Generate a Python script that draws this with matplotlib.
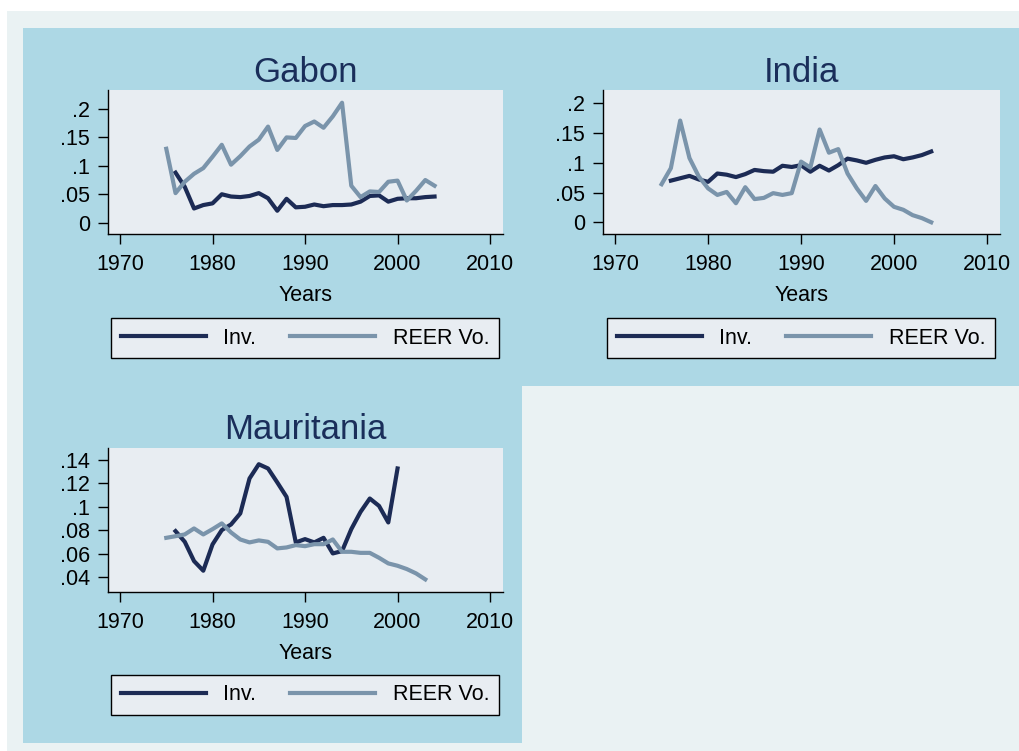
import numpy as np
import matplotlib
matplotlib.use("Agg")
import matplotlib.pyplot as plt
from matplotlib.patches import Rectangle

plt.rcParams['font.family'] = ['Liberation Sans', 'DejaVu Sans']

# ---- data ----
gabon_reer_years = np.arange(1975, 2005)
gabon_reer = [0.130, 0.052, 0.072, 0.086, 0.096, 0.116, 0.137, 0.102, 0.117, 0.134,
              0.146, 0.169, 0.128, 0.150, 0.149, 0.170, 0.178, 0.167, 0.187, 0.211,
              0.065, 0.045, 0.055, 0.054, 0.072, 0.074, 0.039, 0.056, 0.075, 0.065]
gabon_inv_years = np.arange(1976, 2005)
gabon_inv = [0.088, 0.063, 0.025, 0.031, 0.034, 0.050, 0.046, 0.045, 0.047, 0.052,
             0.043, 0.021, 0.042, 0.027, 0.028, 0.032, 0.029, 0.031, 0.031, 0.032,
             0.037, 0.047, 0.048, 0.037, 0.042, 0.043, 0.043, 0.045, 0.046]

india_reer_years = np.arange(1975, 2005)
india_reer = [0.064, 0.091, 0.171, 0.108, 0.077, 0.057, 0.046, 0.051, 0.032, 0.059,
              0.039, 0.041, 0.049, 0.046, 0.049, 0.102, 0.092, 0.156, 0.117, 0.123,
              0.082, 0.057, 0.036, 0.061, 0.040, 0.026, 0.021, 0.012, 0.007, 0.000]
india_inv_years = np.arange(1976, 2005)
india_inv = [0.070, 0.074, 0.078, 0.072, 0.068, 0.082, 0.080, 0.076, 0.081, 0.088,
             0.086, 0.085, 0.095, 0.093, 0.096, 0.085, 0.095, 0.087, 0.096, 0.107,
             0.104, 0.100, 0.105, 0.109, 0.111, 0.106, 0.109, 0.113, 0.119]

maur_reer_years = np.arange(1975, 2004)
maur_reer = [0.0737, 0.0751, 0.0766, 0.0817, 0.0766, 0.0811, 0.0860, 0.0783, 0.0723, 0.0698,
             0.0715, 0.0703, 0.0647, 0.0655, 0.0675, 0.0666, 0.0683, 0.0683, 0.0723, 0.0618,
             0.0618, 0.0609, 0.0609, 0.0567, 0.0519, 0.0499, 0.0471, 0.0434, 0.0383]
maur_inv_years = np.arange(1976, 2001)
maur_inv = [0.0794, 0.0703, 0.0539, 0.0457, 0.0681, 0.0803, 0.0851, 0.0945, 0.1243, 0.1364,
            0.1328, 0.1209, 0.1086, 0.0698, 0.0726, 0.0698, 0.0737, 0.0604, 0.0624, 0.0811,
            0.0958, 0.1072, 0.1009, 0.0868, 0.1328]

x_ticks = [1970, 1980, 1990, 2000, 2010]
gabon_yticks = [0, 0.05, 0.1, 0.15, 0.2]
gabon_ylabels = ["0", ".05", ".1", ".15", ".2"]
maur_yticks = [0.04, 0.06, 0.08, 0.1, 0.12, 0.14]
maur_ylabels = [".04", ".06", ".08", ".1", ".12", ".14"]

# ---- colours ----
outer_bg = '#eaf2f3'
cell_bg = '#add8e5'
plot_bg = '#e8edf2'
inv_color = '#1c2b55'
reer_color = '#7a94ab'
title_color = '#1a2e5a'

W, H = 1020, 751
fig = plt.figure(figsize=(W / 100, H / 100), dpi=100, facecolor='white')


def frect(l, t, r, b):
    return [l / W, 1 - b / H, (r - l) / W, (b - t) / H]


def add_bg(l, t, r, b, color):
    x, y, w, h = frect(l, t, r, b)
    fig.add_artist(Rectangle((x, y), w, h, transform=fig.transFigure,
                             facecolor=color, edgecolor='none', zorder=-10))


add_bg(7, 11, 1020, 751, outer_bg)
add_bg(23, 28, 1020, 386, cell_bg)
add_bg(23, 386, 522, 743, cell_bg)


def panel(box, title, reer_x, reer_y, inv_x, inv_y, yticks, ylabels, ylim, leg_center):
    ax = fig.add_axes(frect(*box))
    ax.set_facecolor(plot_bg)
    l1, = ax.plot(inv_x, inv_y, color=inv_color, lw=3.0, label="Inv.")
    l2, = ax.plot(reer_x, reer_y, color=reer_color, lw=3.0, label="REER Vo.")
    ax.set_xlim(1968.7, 2011.4)
    ax.set_ylim(*ylim)
    ax.set_xticks(x_ticks)
    ax.set_xticklabels([str(v) for v in x_ticks])
    ax.set_yticks(yticks)
    ax.set_yticklabels(ylabels)
    for s in ['top', 'right']:
        ax.spines[s].set_visible(False)
    for s in ['left', 'bottom']:
        ax.spines[s].set_linewidth(1.0)
        ax.spines[s].set_color('black')
    ax.tick_params(axis='both', direction='out', length=7, width=1.0,
                   labelsize=15.5, colors='black')
    ax.tick_params(axis='x', pad=7.5)
    ax.tick_params(axis='y', pad=6)
    ax.set_xlabel("Years", fontsize=15.5, labelpad=7)
    ax.set_title(title, fontsize=25, color=title_color, pad=6)
    cx, cy = leg_center
    leg = ax.legend(handles=[l1, l2], ncol=2, loc='center',
                    bbox_to_anchor=(cx / W, 1 - cy / H), bbox_transform=fig.transFigure,
                    frameon=True, fancybox=False, edgecolor='black', facecolor=plot_bg,
                    framealpha=1, fontsize=15.5, handlelength=3.95, handletextpad=0.8,
                    columnspacing=1.6, borderpad=0.45)
    leg.get_frame().set_linewidth(1.0)
    return ax


panel((108, 90, 503, 234), "Gabon", gabon_reer_years, gabon_reer,
      gabon_inv_years, gabon_inv, gabon_yticks, gabon_ylabels,
      (-0.0199, 0.2334), (305, 338))
panel((603, 90, 1000, 234), "India", india_reer_years, india_reer,
      india_inv_years, india_inv, gabon_yticks, gabon_ylabels,
      (-0.0197, 0.2224), (801, 338))
panel((108, 447.7, 503, 591.7), "Mauritania", maur_reer_years, maur_reer,
      maur_inv_years, maur_inv, maur_yticks, maur_ylabels,
      (0.0278, 0.1505), (305, 695))

fig.savefig("out.png", dpi=100, facecolor='white')
